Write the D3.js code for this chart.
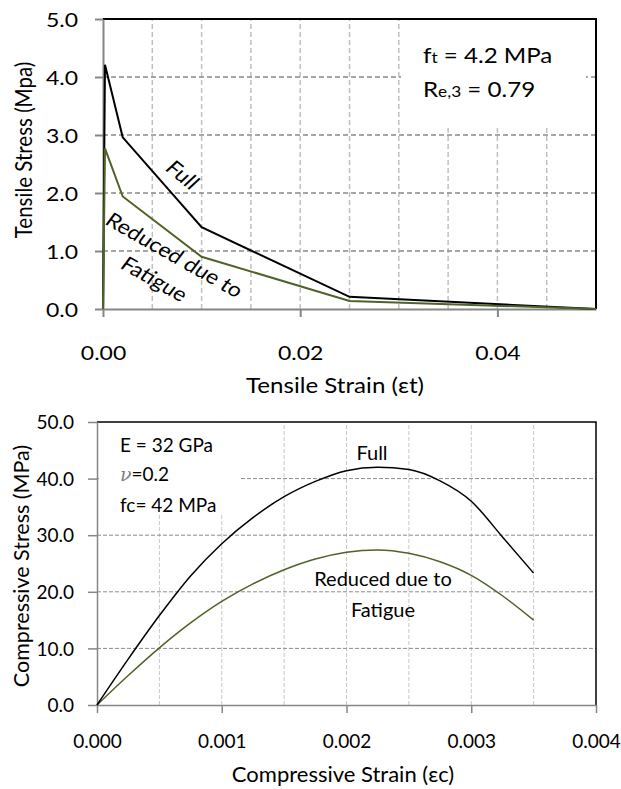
<!DOCTYPE html>
<head>
<meta charset="utf-8">
<title>Tensile / compressive stress-strain</title>
<script type="text/javascript" src="https://d3js.org/d3.v7.min.js"></script>
<style>
  body { margin: 0; background: #fff; }
  text { font-family: Lato, "Open Sans", sans-serif; fill: #000; }
</style>
</head>
<body>
<div id="container"></div>
<script>

//------------------------1. DATA------------------------//
// tensile curves (top)
const tenStrain  = [0, 0.0002, 0.002, 0.01, 0.025, 0.05];
const tenFull    = [0, 4.21, 2.96, 1.41, 0.21, 0];
const tenReduced = [0, 2.77, 1.94, 0.90, 0.14, 0];
const tenXTicks  = [0, 0.02, 0.04];
const tenXGrid   = [0.005, 0.01, 0.015, 0.02, 0.025, 0.03, 0.035, 0.04, 0.045];
const tenYTicks  = [0, 1, 2, 3, 4, 5];

// compressive curves (bottom)
const compStrain  = [0, 0.00025, 0.0005, 0.00075, 0.001, 0.00125, 0.0015, 0.00175,
                     0.002, 0.00225, 0.0025, 0.00275, 0.003, 0.00325, 0.0035];
const compFull    = [0, 8.1, 15.8, 22.8, 28.5, 33.1, 36.8, 39.5, 41.4, 42.0, 41.6, 39.6, 36.0, 29.7, 23.3];
const compReduced = [0, 5.2, 10.1, 14.5, 18.3, 21.4, 23.9, 25.8, 27.0, 27.4, 26.8, 25.3, 22.9, 19.3, 15.0];
const compXTicks  = [0, 0.001, 0.002, 0.003, 0.004];
const compXGrid   = [0.0005, 0.001, 0.0015, 0.002, 0.0025, 0.003, 0.0035];
const compYTicks  = [0, 10, 20, 30, 40, 50];

const black = "#000000";
const olive = "#4f6228";

//------------------------2. SVG------------------------//
const W = 621, H = 789;
const svg = d3.select("div#container").append("svg")
    .attr("width", W)
    .attr("height", H);

// horizontally stretched text helper (top panel text looks wider)
function stext(g, x, y, str, size, sx, rot, anchor) {
  const t = g.append("g")
      .attr("transform", "translate(" + x + "," + y + ") scale(" + sx + ",1) rotate(" + (rot || 0) + ")")
    .append("text")
      .attr("font-size", size)
      .attr("text-anchor", anchor || "middle")
      .text(str);
  return t;
}

//------------------------3. TOP: TENSILE------------------------//
const tx = d3.scaleLinear().domain([0, 0.05]).range([103, 596]);
const ty = d3.scaleLinear().domain([0, 5]).range([309, 19]);
const tg = svg.append("g");
const SX = 1.15;

// grid
tg.selectAll(".vgrid").data(tenXGrid).enter().append("line")
    .attr("x1", d => tx(d)).attr("x2", d => tx(d))
    .attr("y1", ty(0)).attr("y2", ty(5))
    .attr("stroke", "#c0c0c0").attr("stroke-width", 1.5).attr("stroke-dasharray", "5,3");
tg.selectAll(".hgrid").data(tenYTicks.slice(1, -1)).enter().append("line")
    .attr("x1", tx(0)).attr("x2", tx(0.05))
    .attr("y1", d => ty(d)).attr("y2", d => ty(d))
    .attr("stroke", "#8a8a8a").attr("stroke-width", 1.5).attr("stroke-dasharray", "5,3");

// annotation box
tg.append("rect").attr("x", 401).attr("y", 20).attr("width", 185).attr("height", 107).attr("fill", "#fff");
const a1 = stext(tg, 423, 63, "", 21, SX, 0, "start");
a1.append("tspan").text("f");
a1.append("tspan").attr("font-size", 15).text("t");
a1.append("tspan").text(" = 4.2 MPa");
const a2 = stext(tg, 423, 97, "", 21, SX, 0, "start");
a2.append("tspan").text("R");
a2.append("tspan").attr("font-size", 15).text("e,3");
a2.append("tspan").text(" = 0.79");

// border (top + right)
tg.append("path")
    .attr("d", "M" + tx(0) + "," + ty(5) + "H" + tx(0.05) + "V" + ty(0))
    .attr("fill", "none").attr("stroke", black).attr("stroke-width", 2);

// axes
const txAxis = tg.append("g")
    .attr("transform", "translate(0," + ty(0) + ")")
    .call(d3.axisBottom(tx).tickValues(tenXTicks).tickSize(8).tickSizeOuter(0).tickFormat(d3.format(".2f")));
const tyAxis = tg.append("g")
    .attr("transform", "translate(" + tx(0) + ",0)")
    .call(d3.axisLeft(ty).tickValues(tenYTicks).tickSize(8).tickSizeOuter(0).tickFormat(d3.format(".1f")));
[txAxis, tyAxis].forEach(a => {
  a.select(".domain").attr("stroke", "#868686").attr("stroke-width", 2);
  a.selectAll(".tick line").attr("stroke", "#868686").attr("stroke-width", 2);
  a.selectAll("text").attr("font-family", "Lato").attr("font-size", 20).attr("fill", "#000");
});
txAxis.selectAll("text").attr("y", 0).attr("dy", 0)
    .attr("transform", "translate(0,51) scale(" + SX + ",1)");
tyAxis.selectAll("text").attr("x", 0).attr("dy", "0.35em")
    .attr("transform", "translate(-25,0) scale(" + SX + ",1)");

// curves (reduced drawn last, it sits on top in the original)
const tline = d3.line().x(d => tx(d[0])).y(d => ty(d[1]));
tg.append("path").datum(d3.zip(tenStrain, tenFull))
    .attr("d", tline).attr("fill", "none").attr("stroke", black).attr("stroke-width", 2);
tg.append("path").datum(d3.zip(tenStrain, tenReduced))
    .attr("d", tline).attr("fill", "none").attr("stroke", olive).attr("stroke-width", 2);

// curve labels
stext(tg, 177, 180, "Full", 20, SX, 43);
stext(tg, 170, 261, "Reduced due to", 20, SX, 33);
stext(tg, 150, 285, "Fatigue", 20, SX, 33);

// axis titles
stext(tg, 335, 393, "Tensile Strain  (\u03b5t)", 21, SX, 0);
stext(tg, 32, 150, "Tensile Stress (Mpa)", 20.5, SX, -90);

//------------------------4. BOTTOM: COMPRESSIVE------------------------//
const cx = d3.scaleLinear().domain([0, 0.004]).range([97, 596]);
const cy = d3.scaleLinear().domain([0, 50]).range([705, 422]);
const bot = svg.append("g");

bot.selectAll(".vgrid").data(compXGrid).enter().append("line")
    .attr("x1", d => cx(d)).attr("x2", d => cx(d))
    .attr("y1", cy(0)).attr("y2", cy(50))
    .attr("stroke", "#c8c8c8").attr("stroke-width", 1).attr("stroke-dasharray", "4,2");
bot.selectAll(".hgrid").data(compYTicks.slice(1, -1)).enter().append("line")
    .attr("x1", cx(0)).attr("x2", cx(0.004))
    .attr("y1", d => cy(d)).attr("y2", d => cy(d))
    .attr("stroke", "#8c8c8c").attr("stroke-width", 1).attr("stroke-dasharray", "4,2");

bot.append("rect").attr("x", 99).attr("y", 423).attr("width", 141).attr("height", 90).attr("fill", "#fff");
bot.append("text").attr("x", 120).attr("y", 452).attr("font-size", 19).text("E = 32 GPa");
const nu = bot.append("text").attr("x", 120).attr("y", 481).attr("font-size", 19);
nu.append("tspan").attr("font-family", "DejaVu Serif").attr("font-style", "italic")
    .attr("fill", "#808080").text("\u03bd");
nu.append("tspan").text("=0.2");
bot.append("text").attr("x", 120).attr("y", 512).attr("font-size", 19).text("fc= 42 MPa");

bot.append("path")
    .attr("d", "M" + cx(0) + "," + cy(50) + "H" + cx(0.004) + "V" + cy(0))
    .attr("fill", "none").attr("stroke", black).attr("stroke-width", 1.5);

const cxAxis = bot.append("g")
    .attr("transform", "translate(0," + cy(0) + ")")
    .call(d3.axisBottom(cx).tickValues(compXTicks).tickSize(8).tickSizeOuter(0).tickFormat(d3.format(".3f")));
const cyAxis = bot.append("g")
    .attr("transform", "translate(" + cx(0) + ",0)")
    .call(d3.axisLeft(cy).tickValues(compYTicks).tickSize(9).tickSizeOuter(0).tickFormat(d3.format(".1f")));
[cxAxis, cyAxis].forEach(a => {
  a.select(".domain").attr("stroke", "#868686").attr("stroke-width", 1.5);
  a.selectAll(".tick line").attr("stroke", "#868686").attr("stroke-width", 1.5);
  a.selectAll("text").attr("font-family", "Lato").attr("font-size", 19).attr("fill", "#000");
});
cxAxis.selectAll("text").attr("y", 43).attr("dy", 0);
cyAxis.selectAll("text").attr("x", -23).attr("dy", "0.35em");

const cline = d3.line().x(d => cx(d[0])).y(d => cy(d[1])).curve(d3.curveMonotoneX);
bot.append("path").datum(d3.zip(compStrain, compReduced))
    .attr("d", cline).attr("fill", "none").attr("stroke", olive).attr("stroke-width", 1.5);
bot.append("path").datum(d3.zip(compStrain, compFull))
    .attr("d", cline).attr("fill", "none").attr("stroke", black).attr("stroke-width", 1.5);

bot.append("text").attr("x", 372).attr("y", 460).attr("text-anchor", "middle").attr("font-size", 20).text("Full");
bot.append("text").attr("x", 383).attr("y", 586).attr("text-anchor", "middle").attr("font-size", 20).text("Reduced due to");
bot.append("text").attr("x", 383).attr("y", 617).attr("text-anchor", "middle").attr("font-size", 20).text("Fatigue");

bot.append("text").attr("x", 343).attr("y", 782).attr("text-anchor", "middle").attr("font-size", 22).text("Compressive Strain (\u03b5c)");
bot.append("text")
    .attr("transform", "translate(29,566) rotate(-90)")
    .attr("text-anchor", "middle").attr("font-size", 21.5)
    .text("Compressive Stress (MPa)");

</script>
</body>
